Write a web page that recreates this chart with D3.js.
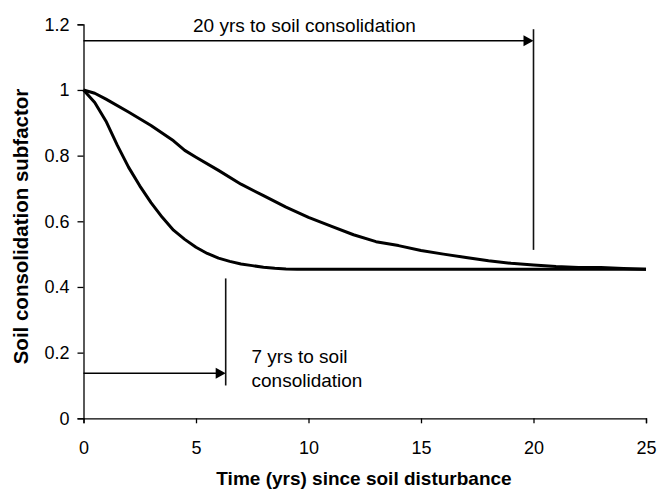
<!DOCTYPE html>
<html><head><meta charset="utf-8">
<script src="https://cdn.jsdelivr.net/npm/d3@7"></script>
<style>
html,body{margin:0;padding:0;background:#fff;}
svg text{font-family:"Liberation Sans",Arial,sans-serif;fill:#000;}
</style></head>
<body><svg id="c" width="657" height="491"></svg>
<script>
// Data
const fastT = [0,0.5,1,1.5,2,2.5,3,3.5,4,4.5,5,5.5,6,6.5,7,7.5,8,8.5,9,9.5,10,11,12,13,14,15,16,17,18,19,20,21,22,23,24,25];
const fastV = [1.0,0.962,0.905,0.832,0.765,0.708,0.657,0.612,0.573,0.545,0.521,0.502,0.488,0.478,0.470,0.465,0.460,0.457,0.455,0.454,0.454,0.454,0.454,0.454,0.454,0.454,0.454,0.454,0.454,0.454,0.454,0.454,0.454,0.454,0.454,0.454];
const slowT = [0,0.5,1,2,3,4,4.5,5,6,7,8,9,10,11,12,13,14,15,16,17,18,19,20,21,22,23,24,25];
const slowV = [1.0,0.99,0.972,0.933,0.892,0.845,0.816,0.795,0.755,0.713,0.678,0.643,0.612,0.585,0.559,0.538,0.526,0.511,0.500,0.490,0.480,0.472,0.467,0.462,0.459,0.459,0.456,0.454];
const xTicks = [0,5,10,15,20,25];
const yTicks = [0,0.2,0.4,0.6,0.8,1,1.2];
const yTickLabels = ["0","0.2","0.4","0.6","0.8","1","1.2"];
const annTop = {text:"20 yrs to soil consolidation", year:20, arrowY:1.15, lineFrom:1.185, lineTo:0.513};
const annBot = {lines:["7 yrs to soil","consolidation"], year:6.32, arrowY:0.137, lineFrom:0.426, lineTo:0.10};
const xTitle = "Time (yrs) since soil disturbance";
const yTitle = "Soil consolidation subfactor";

const svg = d3.select("#c");
const x = d3.scaleLinear().domain([0,25]).range([83.5,646]);
const y = d3.scaleLinear().domain([0,1.2]).range([418.3,24.3]);

// axes
const gx = svg.append("g").attr("transform",`translate(0,${y(0)})`)
  .call(d3.axisBottom(x).tickValues(xTicks).tickSize(5).tickPadding(18).tickFormat(d=>String(d)));
const gy = svg.append("g").attr("transform",`translate(${x(0)},0)`)
  .call(d3.axisLeft(y).tickValues(yTicks).tickSize(6).tickPadding(8).tickFormat((d,i)=>yTickLabels[i]));
[gx,gy].forEach(g=>{
  g.selectAll("path.domain").attr("stroke","#000").attr("stroke-width",1.3);
  g.selectAll(".tick line").attr("stroke","#000").attr("stroke-width",1.3);
  g.selectAll(".tick text").attr("font-size",18).attr("font-family","Liberation Sans, Arial, sans-serif").attr("fill","#000");
});

// curves
const line = d3.line().x(d=>x(d[0])).y(d=>y(d[1]));
const fast = fastT.map((t,i)=>[t,fastV[i]]);
const slow = slowT.map((t,i)=>[t,slowV[i]]);
[slow,fast].forEach(dat=>{
  svg.append("path").datum(dat).attr("d",line).attr("fill","none")
    .attr("stroke","#000").attr("stroke-width",3).attr("stroke-linejoin","round");
});

// annotations
function arrow(xEnd, yv){
  const yy = y(yv), xe = x(xEnd);
  svg.append("line").attr("x1",x(0)).attr("x2",xe-8).attr("y1",yy).attr("y2",yy)
    .attr("stroke","#000").attr("stroke-width",1.4);
  svg.append("path").attr("d",`M${xe},${yy}L${xe-10},${yy-5.5}L${xe-10},${yy+5.5}Z`).attr("fill","#000");
}
function vline(t, a, b){
  svg.append("line").attr("x1",x(t)).attr("x2",x(t)).attr("y1",y(a)).attr("y2",y(b))
    .attr("stroke","#111").attr("stroke-width",1.6);
}
arrow(annTop.year, annTop.arrowY);
vline(annTop.year, annTop.lineFrom, annTop.lineTo);
svg.append("text").attr("x",193).attr("y",32).attr("font-size",19).text(annTop.text);

arrow(annBot.year, annBot.arrowY);
vline(annBot.year, annBot.lineFrom, annBot.lineTo);
svg.append("text").attr("x",251.5).attr("y",363.3).attr("font-size",19).text(annBot.lines[0]);
svg.append("text").attr("x",251.5).attr("y",387.3).attr("font-size",19).text(annBot.lines[1]);

// titles
svg.append("text").attr("x",364).attr("y",484.5).attr("text-anchor","middle")
  .attr("font-size",19).attr("font-weight","bold").text(xTitle);
svg.append("text").attr("transform","translate(28,226.5) rotate(-90)").attr("text-anchor","middle")
  .attr("font-size",20.5).attr("font-weight","bold").text(yTitle);
</script></body></html>
